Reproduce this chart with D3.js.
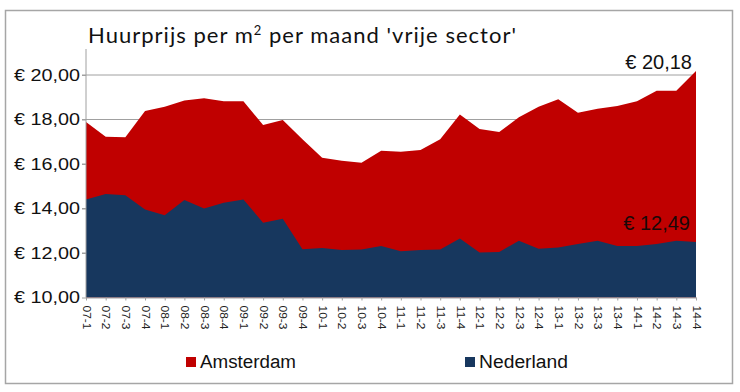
<!DOCTYPE html>
<html>
<head>
<meta charset="utf-8">
<script src="https://cdn.jsdelivr.net/npm/d3@7"></script>
<style>
  body { margin: 0; background: #fff; }
  svg { display: block; font-family: "Liberation Sans", Arial, sans-serif; }
</style>
</head>
<body>
<svg id="chart" width="740" height="392"></svg>
<script>
// quarters 2007-1 .. 2014-4
var quarters = ["07-1", "07-2", "07-3", "07-4", "08-1", "08-2", "08-3", "08-4",
  "09-1", "09-2", "09-3", "09-4", "10-1", "10-2", "10-3", "10-4",
  "11-1", "11-2", "11-3", "11-4", "12-1", "12-2", "12-3", "12-4",
  "13-1", "13-2", "13-3", "13-4", "14-1", "14-2", "14-3", "14-4"];

var amsterdam = [17.89, 17.23, 17.20, 18.38, 18.57, 18.85, 18.95, 18.82,
  18.82, 17.75, 17.98, 17.11, 16.28, 16.15, 16.06, 16.60,
  16.55, 16.63, 17.11, 18.23, 17.57, 17.44, 18.10, 18.57,
  18.91, 18.30, 18.48, 18.61, 18.82, 19.29, 19.29, 20.18];

var nederland = [14.41, 14.65, 14.60, 13.96, 13.70, 14.38, 14.00, 14.26,
  14.41, 13.36, 13.54, 12.17, 12.23, 12.13, 12.16, 12.31,
  12.08, 12.13, 12.16, 12.65, 12.02, 12.05, 12.55, 12.19,
  12.25, 12.40, 12.55, 12.31, 12.31, 12.40, 12.55, 12.49];

var yTicks = [10, 12, 14, 16, 18, 20];
var seriesNames = ["Amsterdam", "Nederland"];
var colors = ["#C00000", "#17375E"];

var svg = d3.select("#chart");

var nl = d3.formatLocale({decimal: ",", thousands: ".", grouping: [3], currency: ["€ ", ""]});
var fmt = nl.format("$.2f");

var x = d3.scalePoint().domain(quarters).range([86, 696]);
var y = d3.scaleLinear().domain([10, 20]).range([297.5, 75]);

// outer frame
svg.append("rect")
  .attr("x", 5.5).attr("y", 10.5)
  .attr("width", 727).attr("height", 373)
  .attr("fill", "#fff")
  .attr("stroke", "#a6a6a6")
  .attr("stroke-width", 1.5);

// title (spaced out a bit, the original font is wide)
var title = svg.append("text")
  .attr("x", 88).attr("y", 43)
  .attr("font-family", "Lato, 'Open Sans', sans-serif")
  .attr("font-size", 22)
  .attr("fill", "#111")
  .attr("textLength", 428)
  .attr("lengthAdjust", "spacing");
title.append("tspan").text("Huurprijs per m");
title.append("tspan").attr("font-size", 13).attr("dy", -8).text("2");
title.append("tspan").attr("dy", 8).text(" per maand 'vrije sector'");

// gridlines
svg.append("g").selectAll("line")
  .data(yTicks.slice(1))
  .enter().append("line")
  .attr("x1", 82).attr("x2", 696)
  .attr("y1", function(d) { return y(d); })
  .attr("y2", function(d) { return y(d); })
  .attr("stroke", "#a0a0a0")
  .attr("stroke-width", 1);

// areas, both from the 10 baseline
var data = [amsterdam, nederland];
var area = d3.area()
  .x(function(d, i) { return x(quarters[i]); })
  .y0(y(10))
  .y1(function(d) { return y(d); });

svg.append("g").selectAll("path")
  .data(data)
  .enter().append("path")
  .attr("d", area)
  .attr("fill", function(d, i) { return colors[i]; });

// y axis
var yAxis = d3.axisLeft(y)
  .tickValues(yTicks)
  .tickSize(4)
  .tickFormat(fmt);

var gy = svg.append("g")
  .attr("transform", "translate(86,0)")
  .call(yAxis);
gy.select(".domain").remove();
gy.selectAll(".tick line").attr("stroke", "#a0a0a0");
gy.selectAll(".tick text")
  .attr("x", -6)
  .attr("font-size", 16)
  .attr("font-family", "'Liberation Sans', Arial, sans-serif")
  .attr("fill", "#111")
  .attr("textLength", 66)
  .attr("lengthAdjust", "spacingAndGlyphs");

svg.append("line")
  .attr("x1", 86).attr("x2", 86)
  .attr("y1", 49).attr("y2", y(10))
  .attr("stroke", "#a0a0a0");

// x axis
var xAxis = d3.axisBottom(x).tickSize(3).tickSizeOuter(0);
var gx = svg.append("g")
  .attr("transform", "translate(0," + y(10) + ")")
  .call(xAxis);
gx.select(".domain").attr("stroke", "#a0a0a0");
gx.selectAll(".tick line").attr("stroke", "#a0a0a0");
gx.selectAll(".tick text")
  .attr("font-size", 11)
  .attr("font-family", "'Liberation Sans', Arial, sans-serif")
  .attr("fill", "#222")
  .attr("text-anchor", "start")
  .attr("transform", "rotate(90)")
  .attr("x", 8)
  .attr("y", 0)
  .attr("dy", "0.35em")
  .attr("textLength", 24)
  .attr("lengthAdjust", "spacingAndGlyphs");

// end value labels
svg.append("text")
  .attr("x", 692).attr("y", 69)
  .attr("text-anchor", "end")
  .attr("font-size", 20)
  .attr("fill", "#111")
  .text(fmt(amsterdam[amsterdam.length - 1]));

svg.append("text")
  .attr("x", 690).attr("y", 230)
  .attr("text-anchor", "end")
  .attr("font-size", 20)
  .attr("fill", "#1a0808")
  .text(fmt(nederland[nederland.length - 1]));

// legend
var legendX = [186, 465];
var legendW = [96, 89];
var leg = svg.append("g").selectAll("g")
  .data(seriesNames)
  .enter().append("g")
  .attr("transform", function(d, i) { return "translate(" + legendX[i] + ",357)"; });
leg.append("rect")
  .attr("width", 10).attr("height", 10)
  .attr("fill", function(d, i) { return colors[i]; });
leg.append("text")
  .attr("x", 14).attr("y", 11)
  .attr("font-size", 18)
  .attr("fill", "#111")
  .attr("textLength", function(d, i) { return legendW[i]; })
  .attr("lengthAdjust", "spacingAndGlyphs")
  .text(function(d) { return d; });
</script>
</body>
</html>
